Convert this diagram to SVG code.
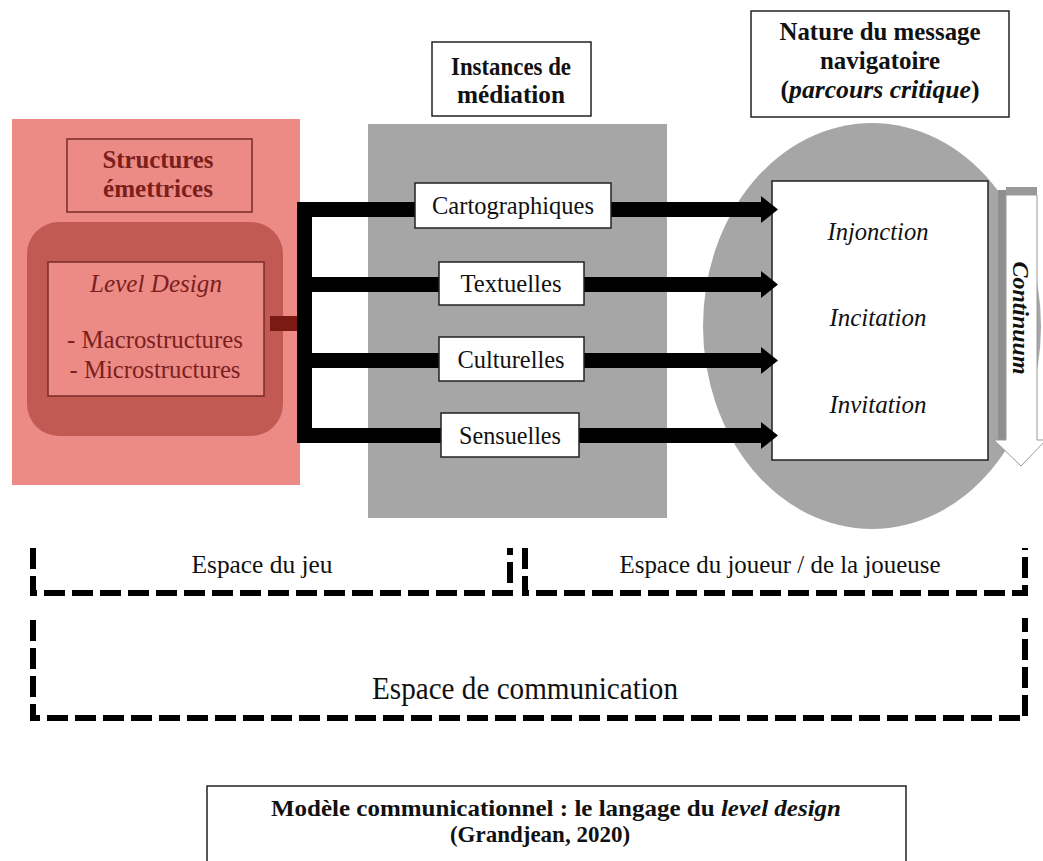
<svg xmlns="http://www.w3.org/2000/svg" width="1043" height="861" viewBox="0 0 1043 861">
<defs>
<style>
text{font-family:"Liberation Serif","Times New Roman",serif;fill:#111;}
.lbl{font-size:25px;text-anchor:middle;}
.hdr{font-size:25px;font-weight:bold;text-anchor:middle;}
.red{fill:#7a1f1c;}
.it{font-style:italic;}
.box{fill:#fff;stroke:#222;stroke-width:1.5;}
.dash{fill:none;stroke:#000;stroke-width:6;stroke-dasharray:21 7;}
.bar{fill:#000;}
</style>
</defs>
<rect width="1043" height="861" fill="#fff"/>

<g id="emettrices">
<rect x="12" y="119" width="288" height="366" fill="#ec8a86"/>
<rect x="67" y="139" width="185" height="73" fill="#ec8a86" stroke="#7a2a26" stroke-width="1.5"/>
<text class="hdr red" x="158" y="168" textLength="111" lengthAdjust="spacingAndGlyphs">Structures</text>
<text class="hdr red" x="158" y="197" textLength="110" lengthAdjust="spacingAndGlyphs">émettrices</text>
<rect x="27" y="222" width="256" height="214" rx="32" fill="#c25a54"/>
<rect x="48" y="262" width="216" height="134" fill="#ec8a86" stroke="#7a2a26" stroke-width="1.5"/>
<text class="lbl red it" x="156" y="292" style="font-size:25px" textLength="132" lengthAdjust="spacingAndGlyphs">Level Design</text>
<text class="lbl red" x="155" y="348" textLength="176" lengthAdjust="spacingAndGlyphs">- Macrostructures</text>
<text class="lbl red" x="155" y="378" textLength="171" lengthAdjust="spacingAndGlyphs">- Microstructures</text>
</g>

<g id="mediation">
<rect x="368" y="124" width="299" height="394" fill="#a6a6a6"/>
<rect class="box" x="432" y="42" width="159" height="74"/>
<text class="hdr" x="511" y="75" textLength="120" lengthAdjust="spacingAndGlyphs">Instances de</text>
<text class="hdr" x="511" y="103" textLength="108" lengthAdjust="spacingAndGlyphs">médiation</text>
</g>

<g id="message">
<ellipse cx="872" cy="326" rx="169" ry="203" fill="#a6a6a6"/>
<rect class="box" x="751" y="11" width="258" height="106"/>
<text class="hdr" x="880" y="40" textLength="201" lengthAdjust="spacingAndGlyphs">Nature du message</text>
<text class="hdr" x="880" y="69" textLength="120" lengthAdjust="spacingAndGlyphs">navigatoire</text>
<text class="hdr" x="880" y="98" textLength="199" lengthAdjust="spacingAndGlyphs">(<tspan font-style="italic">parcours critique</tspan>)</text>
<rect class="box" x="772" y="181" width="216" height="279"/>
<text class="lbl it" x="878" y="240" textLength="101" lengthAdjust="spacingAndGlyphs">Injonction</text>
<text class="lbl it" x="878" y="326" textLength="97" lengthAdjust="spacingAndGlyphs">Incitation</text>
<text class="lbl it" x="878" y="413" textLength="97" lengthAdjust="spacingAndGlyphs">Invitation</text>
</g>

<g id="continuum">
<rect x="998" y="190" width="8" height="252" fill="#8f8f8f"/>
<rect x="1006" y="187" width="31" height="8" fill="#999"/>
<path d="M1006,195 H1037 V440 H1046 L1021,466 L994,440 H1006 Z" fill="#fff" stroke="#9a9a9a" stroke-width="1"/>
<text x="0" y="0" font-size="24" font-weight="bold" font-style="italic" text-anchor="middle" transform="translate(1013,318) rotate(90)" textLength="113" lengthAdjust="spacingAndGlyphs">Continuum</text>
</g>

<g id="connectors">
<rect x="270" y="316" width="28" height="15" fill="#7a1a12"/>
<rect class="bar" x="297" y="202" width="15" height="241"/>
<rect class="bar" x="297" y="202" width="466" height="15"/>
<rect class="bar" x="297" y="277" width="466" height="15"/>
<rect class="bar" x="297" y="353" width="466" height="15"/>
<rect class="bar" x="297" y="428" width="466" height="15"/>
<polygon class="bar" points="761,196 778,209.5 761,223"/>
<polygon class="bar" points="761,271 778,284.5 761,298"/>
<polygon class="bar" points="761,347 778,360.5 761,374"/>
<polygon class="bar" points="761,422 778,435.5 761,449"/>
</g>

<g id="instances">
<rect class="box" x="415" y="183" width="196" height="45"/>
<text class="lbl" x="513" y="214" textLength="162" lengthAdjust="spacingAndGlyphs">Cartographiques</text>
<rect class="box" x="439" y="262" width="145" height="43"/>
<text class="lbl" x="511" y="292" textLength="101" lengthAdjust="spacingAndGlyphs">Textuelles</text>
<rect class="box" x="439" y="337" width="145" height="44"/>
<text class="lbl" x="511" y="368" textLength="107" lengthAdjust="spacingAndGlyphs">Culturelles</text>
<rect class="box" x="441" y="413" width="138" height="44"/>
<text class="lbl" x="510" y="444" textLength="102" lengthAdjust="spacingAndGlyphs">Sensuelles</text>
</g>

<g id="espaces">
<path class="dash" d="M33,548 V593 H510 V548"/>
<text class="lbl" x="262" y="573" style="font-size:26px" textLength="141" lengthAdjust="spacingAndGlyphs">Espace du jeu</text>
<path class="dash" d="M525,548 V593 H1025 V548"/>
<text class="lbl" x="780" y="573" style="font-size:26px" textLength="321" lengthAdjust="spacingAndGlyphs">Espace du joueur / de la joueuse</text>
<path class="dash" d="M33,620 V718 H1025 V618"/>
<text class="lbl" x="525" y="699" style="font-size:32px" textLength="306" lengthAdjust="spacingAndGlyphs">Espace de communication</text>
</g>

<g id="caption">
<rect class="box" x="207" y="786" width="699" height="90"/>
<text class="hdr" x="556" y="816" style="font-size:23px" textLength="570" lengthAdjust="spacingAndGlyphs">Modèle communicationnel : le langage du <tspan font-style="italic">level design</tspan></text>
<text class="hdr" x="540" y="842" style="font-size:23px">(Grandjean, 2020)</text>
</g>
</svg>
